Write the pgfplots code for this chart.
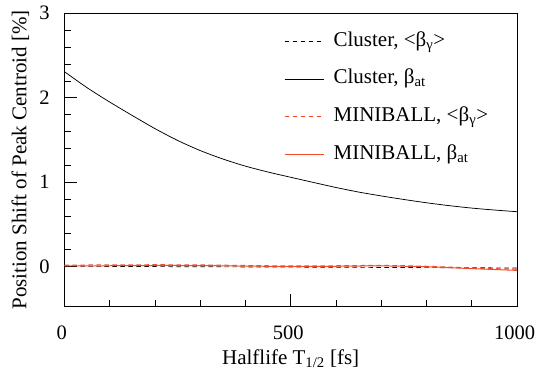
\documentclass[border=0pt]{standalone}
\usepackage{pgfplots}
\pgfplotsset{compat=1.18}
\usepackage{fontspec}
\setmainfont{Liberation Serif}
\definecolor{mbred}{RGB}{242,74,42}
\begin{document}
\fontsize{21bp}{24bp}\selectfont
\begin{tikzpicture}
\begin{axis}[
  scale only axis,
  width=452.7bp, height=293.4bp,
  xmin=0, xmax=1000, ymin=-0.475, ymax=3,
  xtick={0,500,1000}, ytick={0,1,2,3},
  minor x tick num=4, minor y tick num=4,
  xtick pos=left, ytick pos=left,
  tick align=inside,
  major tick length=13bp, minor tick length=7bp,
  tick style={black, line width=0.6pt},
  axis line style={line width=0.9pt},
  /pgf/number format/assume math mode=true,
  /pgf/number format/1000 sep={},
  xticklabel style={font=\fontsize{20.5bp}{24bp}\selectfont, yshift=-11.5bp, xshift=-2.5bp},
  yticklabel style={font=\fontsize{20.5bp}{24bp}\selectfont, xshift=-7.5bp},
  xlabel style={font=\fontsize{21bp}{24bp}\selectfont, yshift=4bp},
  ylabel style={font=\fontsize{21bp}{24bp}\selectfont, yshift=-4bp},
  xlabel={Halflife T\textsubscript{1/2} [fs]},
  ylabel={Position Shift of Peak Centroid [\%]},
  legend style={draw=none, fill=none, inner sep=0pt, at={(0.4853,0.9397)}, anchor=north west,
    font=\fontsize{21bp}{24bp}\selectfont, row sep=17.7bp,
    nodes={inner sep=0pt, text height=15bp, text depth=5bp},
    /tikz/every odd column/.append style={column sep=9.4bp}},
  legend cell align=left,
  legend image code/.code={\draw[#1] (0bp,0bp) -- (39bp,0bp);},
]
\addplot[black, dash pattern=on 4.5bp off 3.5bp, line width=0.7pt, smooth] coordinates {
(0,0.004) (100,0.002) (200,0.0) (300,-0.002) (400,-0.004) (500,-0.006) (600,-0.008) (700,-0.01) (800,-0.012) (900,-0.014) (1000,-0.016)};
\addlegendentry{Cluster, <β\textsubscript{γ}>}
\addplot[black, line width=0.75pt, smooth] coordinates {
(0,2.31) (50,2.12) (100,1.95) (150,1.79) (200,1.635) (250,1.495) (300,1.375) (350,1.275) (400,1.19) (450,1.12) (500,1.058) (550,0.997) (600,0.937) (650,0.883) (700,0.837) (750,0.795) (800,0.756) (850,0.722) (900,0.693) (950,0.67) (1000,0.65)};
\addlegendentry{Cluster, β\textsubscript{at}}
\addplot[mbred, dash pattern=on 4.5bp off 3.5bp, line width=1pt, smooth] coordinates {
(0,0.018) (100,0.02) (200,0.022) (300,0.02) (400,0.013) (500,0.008) (600,0.01) (700,0.014) (800,0.004) (900,-0.016) (1000,-0.032)};
\addlegendentry{MINIBALL, <β\textsubscript{γ}>}
\addplot[mbred, line width=1pt, smooth] coordinates {
(0,0.008) (100,0.01) (200,0.013) (300,0.012) (400,0.006) (500,0.002) (600,0.004) (700,0.008) (800,-0.002) (900,-0.024) (1000,-0.045)};
\addlegendentry{MINIBALL, β\textsubscript{at}}
\end{axis}
\pgfresetboundingbox
\path[use as bounding box] ([xshift=-64.3bp,yshift=-62.3bp]current axis.south west) rectangle ([xshift=19bp,yshift=13.3bp]current axis.north east);
\end{tikzpicture}
\end{document}
